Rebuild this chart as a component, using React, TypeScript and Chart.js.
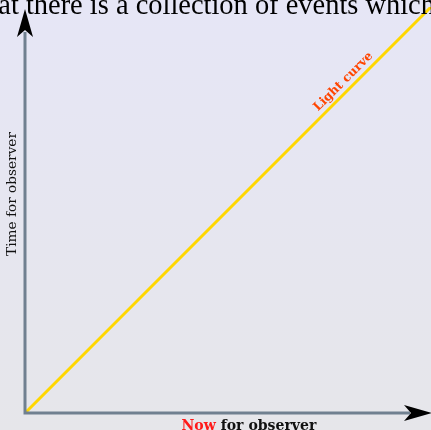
import React, { useEffect, useRef } from "react";
import { Chart, registerables } from "chart.js";

Chart.register(...registerables);

// Data
const lightCurveX = [0, 1];
const lightCurveY = [0, 1];
const lightCurveLabel = "Light curve";
const labelAt = 0.8;
const xTitleRed = "Now";
const xTitleRest = " for observer";
const yTitle = "Time for observer";
const headerPrefix = "tha";
const headerMeasured = "t there is a collection of events whic";
const headerText = "that there is a collection of events which";

const AXIS_COLOR = "#708090";
const LINE_COLOR = "#FFD700";
const LABEL_COLOR = "#FF4500";

function fitFont(ctx: any, text: string, weight: string, family: string, target: number) {
  ctx.font = `${weight} 20px ${family}`;
  const w = ctx.measureText(text).width;
  const size = (20 * target) / w;
  const f = `${weight} ${size.toFixed(2)}px ${family}`;
  ctx.font = f;
  return f;
}

const decorPlugin = {
  id: "decor",
  afterDatasetsDraw(chart: any) {
    const { ctx, scales } = chart;
    const x0 = scales.x.getPixelForValue(0);
    const y0 = scales.y.getPixelForValue(0);
    ctx.save();
    // axes lines
    ctx.strokeStyle = AXIS_COLOR;
    ctx.lineWidth = 3;
    ctx.lineCap = "butt";
    ctx.beginPath();
    ctx.moveTo(x0, y0 + 1.5);
    ctx.lineTo(x0, 32);
    ctx.moveTo(x0 - 1.5, y0);
    ctx.lineTo(410, y0);
    ctx.stroke();
    // arrowheads (stealth)
    ctx.fillStyle = "#000";
    ctx.beginPath();
    ctx.moveTo(x0, 9);
    ctx.lineTo(x0 + 8, 37);
    ctx.lineTo(x0, 30);
    ctx.lineTo(x0 - 8, 37);
    ctx.closePath();
    ctx.fill();
    ctx.beginPath();
    ctx.moveTo(432, y0);
    ctx.lineTo(404, y0 - 8);
    ctx.lineTo(411, y0);
    ctx.lineTo(404, y0 + 8);
    ctx.closePath();
    ctx.fill();

    // light curve label
    const lx = scales.x.getPixelForValue(labelAt);
    const ly = scales.y.getPixelForValue(labelAt);
    ctx.save();
    ctx.translate(lx - 6.4, ly - 6.4);
    ctx.rotate(-Math.PI / 4);
    fitFont(ctx, lightCurveLabel, "bold", "'DejaVu Serif'", 78);
    ctx.fillStyle = LABEL_COLOR;
    ctx.textAlign = "center";
    ctx.textBaseline = "middle";
    ctx.fillText(lightCurveLabel, 0, 0);
    ctx.restore();

    // y title
    ctx.save();
    ctx.translate(12.5, 194);
    ctx.rotate(-Math.PI / 2);
    fitFont(ctx, yTitle, "normal", "'DejaVu Serif'", 124);
    ctx.fillStyle = "#111";
    ctx.textAlign = "center";
    ctx.textBaseline = "middle";
    ctx.fillText(yTitle, 0, 0);
    ctx.restore();

    // x title
    fitFont(ctx, xTitleRed + xTitleRest, "bold", "'DejaVu Serif'", 135);
    ctx.textBaseline = "alphabetic";
    ctx.textAlign = "left";
    const wRed = ctx.measureText(xTitleRed).width;
    const startX = 181.5;
    ctx.fillStyle = "#ff1a1a";
    ctx.fillText(xTitleRed, startX, 429.5);
    ctx.fillStyle = "#111";
    ctx.fillText(xTitleRest, startX + wRed, 429.5);

    // header text
    fitFont(ctx, headerMeasured, "normal", "'Liberation Serif'", 410);
    ctx.fillStyle = "#000";
    const pre = ctx.measureText(headerPrefix).width;
    const t = ctx.measureText("t").width;
    ctx.fillText(headerText, 3 - (pre - t), 14);
    ctx.restore();
  },
};

export default function App() {
  const ref = useRef<HTMLCanvasElement>(null);
  useEffect(() => {
    if (!ref.current) return;
    const chart = new Chart(ref.current, {
      type: "scatter",
      data: {
        datasets: [
          {
            label: lightCurveLabel,
            data: lightCurveX.map((x, i) => ({ x, y: lightCurveY[i] })),
            showLine: true,
            borderColor: LINE_COLOR,
            borderWidth: 3,
            pointRadius: 0,
            fill: false,
          },
        ],
      },
      options: {
        animation: false,
        responsive: false,
        layout: { padding: { left: 25, right: 0, top: 7, bottom: 17 } },
        plugins: { legend: { display: false }, tooltip: { enabled: false } },
        scales: {
          x: { type: "linear", min: 0, max: 1, display: false },
          y: { type: "linear", min: 0, max: 1, display: false },
        },
      },
      plugins: [decorPlugin],
    });
    return () => chart.destroy();
  }, []);
  return (
    <div
      style={{
        position: "fixed",
        left: 0,
        top: 0,
        width: 431,
        height: 430,
        overflow: "hidden",
        background: "linear-gradient(to bottom, #e6e6f6, #e6e6ea)",
      }}
    >
      <canvas ref={ref} width={431} height={430} style={{ display: "block" }} />
    </div>
  );
}
